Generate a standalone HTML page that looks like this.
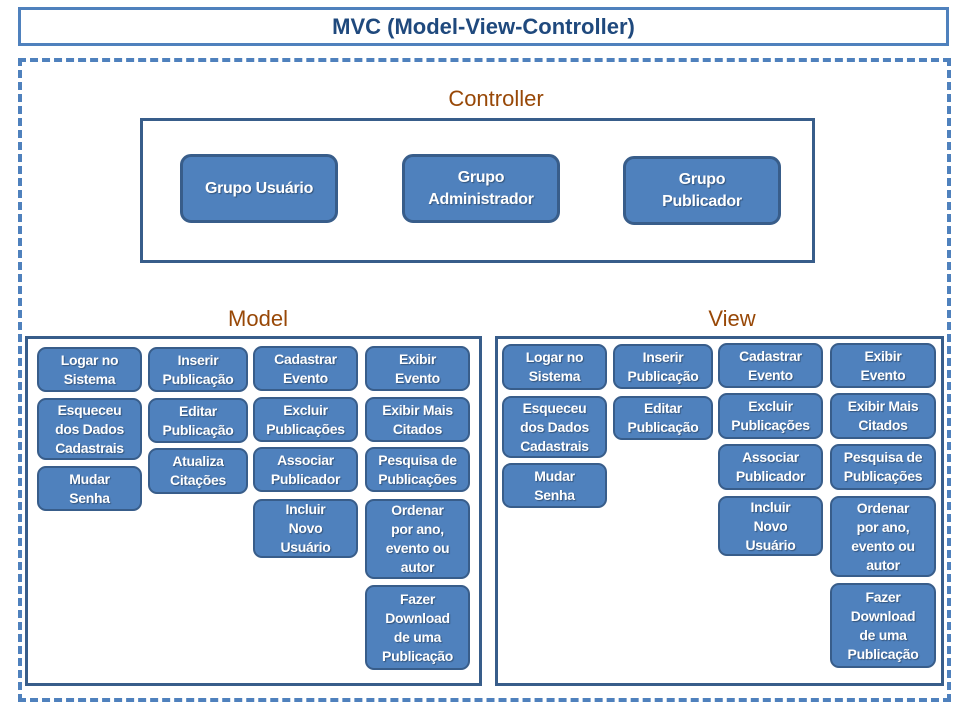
<!DOCTYPE html>
<html><head><meta charset="utf-8"><style>
*{margin:0;padding:0;box-sizing:border-box}
body{width:960px;height:720px;background:#fff;position:relative;overflow:hidden;font-family:"Liberation Sans",sans-serif}
.a{position:absolute}
.b{position:absolute;background:#4f81bd;border:2px solid #385d8a;border-radius:9px;color:#fff;font-weight:bold;font-size:14px;line-height:19px;display:flex;align-items:center;justify-content:center;text-align:center;text-shadow:1px 1px 1px rgba(0,0,0,.35);letter-spacing:-0.3px}
.c{font-size:16px;line-height:22px;border-radius:11px;border-width:3px}
.lbl{position:absolute;color:#984807;font-size:22px;text-align:center}
.box{position:absolute;border:2px solid #385d8a}
</style></head><body>
<div class="a" style="left:18px;top:7px;width:931px;height:39px;border:3px solid #4f81bd;color:#1f497d;font-weight:bold;font-size:22px;display:flex;align-items:center;justify-content:center">MVC (Model-View-Controller)</div>
<div class="a" style="left:18px;top:58px;width:933px;height:644px;border:4px dashed #4f81bd"></div>
<div class="lbl" style="left:396px;top:86px;width:200px">Controller</div>
<div class="box" style="left:140px;top:118px;width:675px;height:145px;border-width:3px"></div>
<div class="b c" style="left:180px;top:154px;width:158px;height:69px">Grupo Usuário</div>
<div class="b c" style="left:402px;top:154px;width:158px;height:69px">Grupo<br>Administrador</div>
<div class="b c" style="left:623px;top:156px;width:158px;height:69px">Grupo<br>Publicador</div>

<div class="lbl" style="left:158px;top:306px;width:200px">Model</div>
<div class="lbl" style="left:632px;top:306px;width:200px">View</div>
<div class="box" style="left:25px;top:336px;width:457px;height:350px;border-width:3px"></div>
<div class="box" style="left:495px;top:336px;width:449px;height:350px;border-width:3px"></div>

<div class="b" style="left:37px;top:347px;width:105px;height:45px">Logar no<br>Sistema</div>
<div class="b" style="left:37px;top:398px;width:105px;height:62px">Esqueceu<br>dos Dados<br>Cadastrais</div>
<div class="b" style="left:37px;top:466px;width:105px;height:45px">Mudar<br>Senha</div>
<div class="b" style="left:148px;top:347px;width:100px;height:45px">Inserir<br>Publicação</div>
<div class="b" style="left:148px;top:398px;width:100px;height:45px">Editar<br>Publicação</div>
<div class="b" style="left:148px;top:448px;width:100px;height:46px">Atualiza<br>Citações</div>
<div class="b" style="left:253px;top:346px;width:105px;height:45px">Cadastrar<br>Evento</div>
<div class="b" style="left:253px;top:397px;width:105px;height:45px">Excluir<br>Publicações</div>
<div class="b" style="left:253px;top:447px;width:105px;height:45px">Associar<br>Publicador</div>
<div class="b" style="left:253px;top:499px;width:105px;height:59px">Incluir<br>Novo<br>Usuário</div>
<div class="b" style="left:365px;top:346px;width:105px;height:45px">Exibir<br>Evento</div>
<div class="b" style="left:365px;top:397px;width:105px;height:45px">Exibir Mais<br>Citados</div>
<div class="b" style="left:365px;top:447px;width:105px;height:45px">Pesquisa de<br>Publicações</div>
<div class="b" style="left:365px;top:499px;width:105px;height:80px">Ordenar<br>por ano,<br>evento ou<br>autor</div>
<div class="b" style="left:365px;top:585px;width:105px;height:85px">Fazer<br>Download<br>de uma<br>Publicação</div>

<div class="b" style="left:502px;top:344px;width:105px;height:46px">Logar no<br>Sistema</div>
<div class="b" style="left:502px;top:396px;width:105px;height:62px">Esqueceu<br>dos Dados<br>Cadastrais</div>
<div class="b" style="left:502px;top:463px;width:105px;height:45px">Mudar<br>Senha</div>
<div class="b" style="left:613px;top:344px;width:100px;height:45px">Inserir<br>Publicação</div>
<div class="b" style="left:613px;top:396px;width:100px;height:44px">Editar<br>Publicação</div>
<div class="b" style="left:718px;top:343px;width:105px;height:45px">Cadastrar<br>Evento</div>
<div class="b" style="left:718px;top:393px;width:105px;height:46px">Excluir<br>Publicações</div>
<div class="b" style="left:718px;top:444px;width:105px;height:46px">Associar<br>Publicador</div>
<div class="b" style="left:718px;top:496px;width:105px;height:60px">Incluir<br>Novo<br>Usuário</div>
<div class="b" style="left:830px;top:343px;width:106px;height:45px">Exibir<br>Evento</div>
<div class="b" style="left:830px;top:393px;width:106px;height:46px">Exibir Mais<br>Citados</div>
<div class="b" style="left:830px;top:444px;width:106px;height:46px">Pesquisa de<br>Publicações</div>
<div class="b" style="left:830px;top:496px;width:106px;height:81px">Ordenar<br>por ano,<br>evento ou<br>autor</div>
<div class="b" style="left:830px;top:583px;width:106px;height:85px">Fazer<br>Download<br>de uma<br>Publicação</div>
</body></html>
